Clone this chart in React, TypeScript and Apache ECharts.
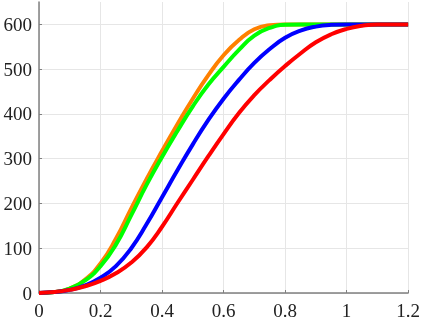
import React, { useEffect, useRef } from "react";
import * as echarts from "echarts";

const xValues = [0, 0.05, 0.1, 0.15, 0.2, 0.25, 0.3, 0.35, 0.4, 0.45, 0.5, 0.55, 0.6, 0.65, 0.7, 0.75, 0.8, 0.85, 0.9, 0.95, 1.0, 1.05, 1.1, 1.15, 1.2];
const orangeValues = [0, 2, 10, 30, 66, 121, 189, 255, 317, 377, 434, 486, 531, 565, 589, 598, 600, 600, 600, 600, 600, 600, 600, 600, 600];
const greenValues = [0, 2, 10, 28, 60, 108, 174, 242, 304, 362, 417, 465, 505, 543, 575, 592, 599, 600, 600, 600, 600, 600, 600, 600, 600];
const blueValues = [0, 2, 7, 17, 34, 60, 100, 154, 214, 274, 332, 386, 434, 476, 514, 545, 570, 586, 595, 599, 600, 600, 600, 600, 600];
const redValues = [0, 2, 7, 15, 27, 44, 68, 102, 148, 201, 253, 305, 355, 402, 442, 476, 507, 535, 560, 578, 590, 597, 600, 600, 600];
const yTicks = [0, 100, 200, 300, 400, 500, 600];

const seriesDefs = [
  { name: "orange", values: orangeValues, color: "#FF8000" },
  { name: "green", values: greenValues, color: "#00FF00" },
  { name: "blue", values: blueValues, color: "#0000FF" },
  { name: "red", values: redValues, color: "#FF0000" },
];

const font = "'Liberation Serif', 'Times New Roman', serif";

export default function App() {
  const ref = useRef<HTMLDivElement>(null);
  useEffect(() => {
    if (!ref.current) return;
    const chart = echarts.init(ref.current, null, { renderer: "svg" });
    chart.setOption({
      animation: false,
      grid: { left: 39, right: 14, top: 2, bottom: 28, containLabel: false },
      xAxis: {
        type: "value",
        min: 0,
        max: 1.2,
        interval: 0.2,
        axisLine: { show: true, onZero: false, lineStyle: { color: "#808080", width: 1.5 } },
        axisTick: { show: true, inside: true, length: 3, lineStyle: { color: "#808080" } },
        axisLabel: { color: "#222", fontFamily: font, fontSize: 19, margin: 8, showMaxLabel: true, showMinLabel: true },
        splitLine: { show: true, lineStyle: { color: "#e6e6e6", width: 1 } },
      },
      yAxis: {
        type: "value",
        min: 0,
        max: 650,
        interval: 100,
        axisLine: { show: true, lineStyle: { color: "#808080", width: 1.5 } },
        axisTick: { show: true, inside: true, length: 3, lineStyle: { color: "#808080" }, customValues: yTicks },
        axisLabel: { color: "#222", fontFamily: font, fontSize: 19, margin: 7, customValues: yTicks },
        splitLine: {
          show: true,
          lineStyle: {
            color: ["#e6e6e6", "#e6e6e6", "#e6e6e6", "#e6e6e6", "#e6e6e6", "#e6e6e6", "#e6e6e6", "rgba(0,0,0,0)"],
            width: 1,
          },
        },
      },
      series: seriesDefs.map((s) => ({
        type: "line",
        name: s.name,
        data: xValues.map((x, i) => [x, s.values[i]]),
        showSymbol: false,
        smooth: 0.5,
        lineStyle: { color: s.color, width: 4 },
        itemStyle: { color: s.color },
      })),
    });
    return () => chart.dispose();
  }, []);
  return <div ref={ref} style={{ position: "fixed", left: 0, top: 0, width: 423, height: 321 }} />;
}
